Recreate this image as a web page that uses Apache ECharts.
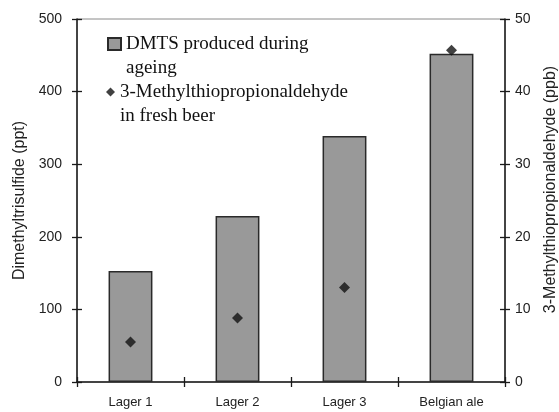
<!DOCTYPE html>
<html>
<head>
<meta charset="utf-8">
<script src="https://cdn.jsdelivr.net/npm/echarts@6/dist/echarts.min.js"></script>
<style>
html,body{margin:0;padding:0;background:#fff;}
#chart{width:559px;height:412px;}
</style>
</head>
<body>
<div id="chart"></div>
<script>
var categories = ['Lager 1', 'Lager 2', 'Lager 3', 'Belgian ale'];
var dmtsValues = [153, 228.5, 339, 452];          // ppt, left axis
var methionalValues = [5.5, 8.8, 13.0, 45.7];     // ppb, right axis
var leftTicks = [0, 100, 200, 300, 400, 500];
var rightTicks = [0, 10, 20, 30, 40, 50];
var barName = 'DMTS produced during\nageing';
var dotName = '3-Methylthiopropionaldehyde\nin fresh beer';

var axisColor = '#1a1a1a';
var sans = 'Liberation Sans, Arial, sans-serif';
var serif = 'Liberation Serif, Times New Roman, serif';

function yAx(pos, ticks, inside, showLabels, name) {
  var o = {
    type: 'value', position: pos,
    min: ticks[0], max: ticks[ticks.length - 1],
    interval: ticks[1] - ticks[0],
    splitLine: { show: false },
    axisLine: { show: showLabels, lineStyle: { color: axisColor, width: 1.5 } },
    axisTick: { show: true, inside: inside, length: 5, lineStyle: { color: axisColor, width: 1.3 } },
    axisLabel: { show: showLabels, color: '#222', fontFamily: sans, fontSize: 14, margin: pos === 'left' ? 15 : 10 }
  };
  if (name) {
    o.name = name;
    o.nameLocation = 'middle';
    o.nameRotate = 90;
    o.nameTextStyle = { color: '#222', fontFamily: sans, fontSize: 16 };
  }
  return o;
}

var left1 = yAx('left', leftTicks, false, true, 'Dimethyltrisulfide (ppt)');
left1.nameGap = 44;
var right1 = yAx('right', rightTicks, false, true, '3-Methylthiopropionaldehyde (ppb)');
right1.nameGap = 38;
right1.nameTextStyle.padding = [0, 0, 0, 22];
var left2 = yAx('left', leftTicks, true, false);
var right2 = yAx('right', rightTicks, true, false);

function xAx(inside, showLabels) {
  return {
    type: 'category', data: categories, position: 'bottom',
    axisLine: { show: showLabels, lineStyle: { color: axisColor, width: 1.5 } },
    axisTick: { show: true, inside: inside, length: 5, lineStyle: { color: axisColor, width: 1.3 } },
    axisLabel: { show: showLabels, color: '#222', fontFamily: sans, fontSize: 13, margin: 14 }
  };
}

// a leading blank line makes the icon line up with the first text line
function legendFmt(name) { return ' \n' + name; }

var option = {
  animation: false,
  backgroundColor: '#fff',
  grid: {
    left: 77, right: 54, top: 19, bottom: 30,
    containLabel: false, outerBoundsMode: 'none',
    show: true, borderColor: '#8a8a8a', borderWidth: 1, backgroundColor: 'transparent'
  },
  legend: [
    {
      data: [{ name: barName, icon: 'rect' }],
      left: 107, top: 8, padding: 0,
      itemWidth: 13, itemHeight: 12,
      formatter: legendFmt,
      textStyle: { fontFamily: serif, fontSize: 19, color: '#111', lineHeight: 24 }
    },
    {
      data: [{ name: dotName, icon: 'diamond' }],
      left: 106, top: 56, padding: 0,
      itemWidth: 9, itemHeight: 9,
      formatter: legendFmt,
      textStyle: { fontFamily: serif, fontSize: 19, color: '#111', lineHeight: 24 }
    }
  ],
  xAxis: [xAx(false, true), xAx(true, false)],
  yAxis: [left1, right1, left2, right2],
  series: [
    {
      name: barName, type: 'bar', xAxisIndex: 0, yAxisIndex: 0,
      data: dmtsValues, barWidth: '41%',
      itemStyle: { color: '#999999', borderColor: '#2a2a2a', borderWidth: 1.5 }
    },
    {
      name: dotName, type: 'scatter', xAxisIndex: 0, yAxisIndex: 1,
      data: methionalValues, symbol: 'diamond', symbolSize: 11,
      itemStyle: { color: '#111' }
    }
  ]
};

var chart = echarts.init(document.getElementById('chart'), null, { renderer: 'canvas' });
chart.setOption(option);
</script>
</body>
</html>
